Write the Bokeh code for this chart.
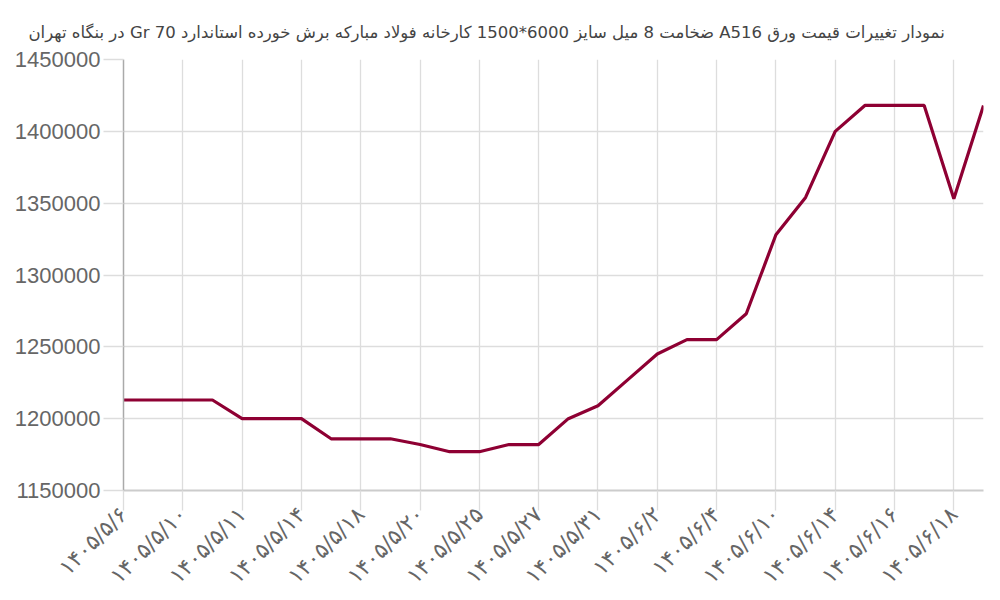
from math import pi
from bokeh.plotting import figure
from bokeh.models import FixedTicker, Range1d, BasicTickFormatter
from bokeh.embed import file_html
from bokeh.resources import INLINE

title_text = "نمودار تغییرات قیمت ورق A516 ضخامت 8 میل سایز 6000*1500 کارخانه فولاد مبارکه برش خورده استاندارد Gr 70 در بنگاه تهران"

tick_labels = ["۱۴۰۵/۵/۶", "۱۴۰۵/۵/۱۰", "۱۴۰۵/۵/۱۱", "۱۴۰۵/۵/۱۴", "۱۴۰۵/۵/۱۸",
               "۱۴۰۵/۵/۲۰", "۱۴۰۵/۵/۲۵", "۱۴۰۵/۵/۲۷", "۱۴۰۵/۵/۳۱", "۱۴۰۵/۶/۲",
               "۱۴۰۵/۶/۴", "۱۴۰۵/۶/۱۰", "۱۴۰۵/۶/۱۴", "۱۴۰۵/۶/۱۶", "۱۴۰۵/۶/۱۸"]

prices = [1213000, 1213000, 1213000, 1213000, 1200000, 1200000, 1200000,
          1186000, 1186000, 1186000, 1182000, 1177000, 1177000, 1182000,
          1182000, 1200000, 1209000, 1227000, 1245000, 1255000, 1255000,
          1273000, 1328000, 1354000, 1400000, 1418000, 1418000, 1418000,
          1353000, 1418000]

idx = list(range(len(prices)))
tick_pos = idx[::2]

p = figure(width=992, height=600, output_backend="svg", toolbar_location=None,
           x_range=Range1d(0, len(prices) - 1), y_range=Range1d(1150000, 1450000),
           min_border_left=123, min_border_right=9, min_border_top=59, min_border_bottom=110)

# RTL embedding so the Persian title reads right to left
p.title.text = "\u202b" + title_text + "\u202c"
p.title.align = "left"
p.title.offset = -95
p.title.standoff = 36
p.title.text_font = "DejaVu Sans"
p.title.text_font_size = "16.5px"
p.title.text_font_style = "normal"
p.title.text_color = "#444444"

p.line(idx, prices, color="#8e0033", line_width=3.2)

p.outline_line_color = None
p.grid.grid_line_color = "#dddddd"
p.grid.grid_line_width = 1.3

p.xaxis.ticker = FixedTicker(ticks=tick_pos)
p.xaxis.major_label_overrides = {i: lab for i, lab in zip(tick_pos, tick_labels)}
p.xaxis.major_label_orientation = pi / 4
p.xaxis.major_label_text_font = "DejaVu Sans"
p.xaxis.major_label_text_font_size = "22px"
p.xaxis.major_label_text_color = "#666666"
p.xaxis.major_label_standoff = 0
p.xaxis.axis_line_color = "#cccccc"
p.xaxis.axis_line_width = 2
p.xaxis.major_tick_line_color = "#dddddd"
p.xaxis.major_tick_line_width = 1.3
p.xaxis.major_tick_out = 20
p.xaxis.major_tick_in = 0
p.xaxis.minor_tick_line_color = None

p.yaxis.ticker = FixedTicker(ticks=list(range(1150000, 1450001, 50000)))
p.yaxis.formatter = BasicTickFormatter(use_scientific=False)
p.yaxis.major_label_text_font = "Liberation Sans"
p.yaxis.major_label_text_font_size = "22px"
p.yaxis.major_label_text_color = "#666666"
p.yaxis.axis_line_color = "#aaaaaa"
p.yaxis.axis_line_width = 1.5
p.yaxis.major_tick_line_color = "#dddddd"
p.yaxis.major_tick_line_width = 1.3
p.yaxis.major_tick_out = 20
p.yaxis.major_tick_in = 0
p.yaxis.major_label_standoff = 3
p.yaxis.minor_tick_line_color = None

open("out.html", "w").write(file_html(p, INLINE))
